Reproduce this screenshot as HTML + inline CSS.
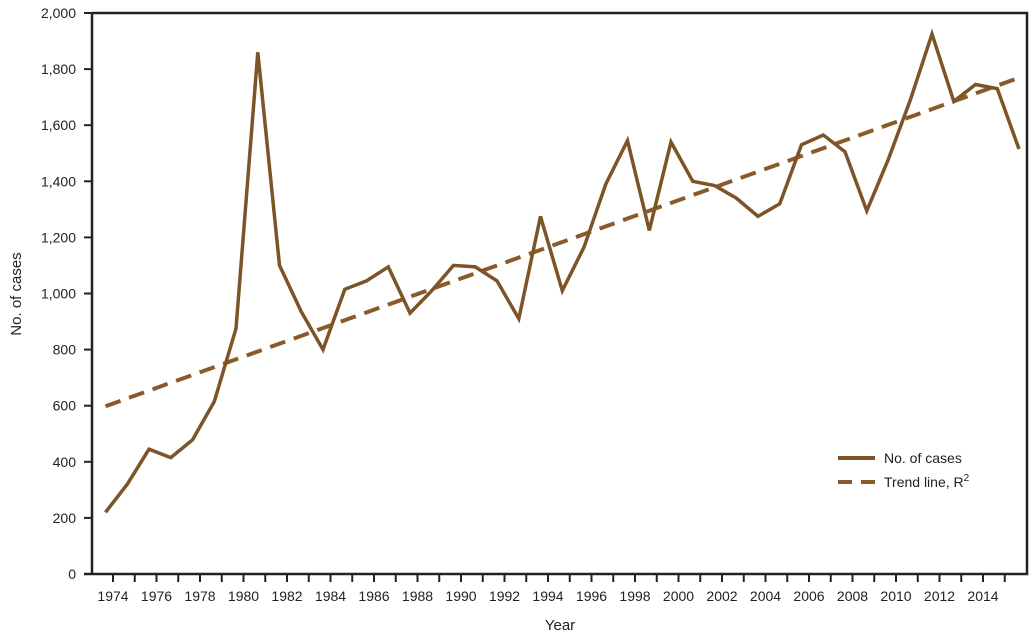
<!DOCTYPE html>
<html><head><meta charset="utf-8"><style>
html,body{margin:0;padding:0;background:#fff;}
svg{display:block;font-family:"Liberation Sans",sans-serif;}
</style></head><body>
<svg id="chart" width="1036" height="642" viewBox="0 0 1036 642" xmlns="http://www.w3.org/2000/svg"></svg>
<script>
const years = [];
for (let y = 1974; y <= 2016; y++) years.push(y);
const cases = [220,320,445,415,478,615,875,1860,1100,935,800,1015,1045,1095,930,1010,1100,1095,1045,910,1275,1010,1165,1390,1545,1225,1540,1400,1385,1340,1275,1320,1530,1565,1505,1295,1480,1690,1925,1685,1745,1730,1515];
const trendStart = 598;
const trendEnd = 1769;
const yTicks = [0,200,400,600,800,1000,1200,1400,1600,1800,2000];
const xTickYears = [];
for (let y = 1974; y <= 2015; y++) xTickYears.push(y);

const NS = "http://www.w3.org/2000/svg";
const svg = document.getElementById('chart');
const X0 = 92, X1 = 1027, Y0 = 574, Y1 = 13;
function yScale(v){ return Y0 - v * (Y0 - Y1) / 2000; }
function tickX(yr){ return 113 + (yr - 1974) * 21.75; }
function xScale(yr){ return tickX(yr) - 7.5; }
function mk(tag, attrs){ const e = document.createElementNS(NS, tag); for (const k in attrs) e.setAttribute(k, attrs[k]); svg.appendChild(e); return e; }

// frame
let f = mk('path', {d:`M${X0},${Y1} H${X1} V${Y0} H84 M${X0},${Y1} V${Y0}`, fill:'none', stroke:'#222', 'stroke-width':2.5});



yTicks.forEach(v => {
  const y = yScale(v);
  const t = mk('line', {x1:84, x2:X0, y1:y, y2:y, stroke:'#222', 'stroke-width':2});
  
  
  const l = mk('text', {x:76, y:y+5, 'text-anchor':'end', 'font-size':14, fill:'#222'});
  l.textContent = v.toLocaleString('en-US');
  
  
});
xTickYears.forEach(yr => {
  const x = tickX(yr);
  const t = mk('line', {x1:x, x2:x, y1:Y0, y2:582, stroke:'#222', 'stroke-width':2});
  
  
  if (yr % 2 === 0) {
    const l = mk('text', {x:x, y:601, 'text-anchor':'middle', 'font-size':14, fill:'#222'});
    l.textContent = yr;
    
    
  }
});

// trend line
const tl = mk('line', {x1:xScale(years[0]), y1:yScale(trendStart), x2:xScale(years[cases.length-1]), y2:yScale(trendEnd), stroke:'#8b5a2b', 'stroke-width':4, 'stroke-dasharray':'16,9'});



// cases line
const pts = cases.map((v,i) => xScale(years[i]).toFixed(1) + ',' + yScale(v).toFixed(1)).join(' ');
const cl = mk('polyline', {points:pts, fill:'none', stroke:'#7d5427', 'stroke-width':3.5, 'stroke-linejoin':'miter'});



// axis titles
const yt = mk('text', {x:0, y:0, transform:'translate(21,294) rotate(-90)', 'text-anchor':'middle', 'font-size':15, fill:'#222'});
yt.textContent = 'No. of cases';


const xt = mk('text', {x:560, y:630, 'text-anchor':'middle', 'font-size':15, fill:'#222'});
xt.textContent = 'Year';



// legend
const l1 = mk('line', {x1:838, x2:875, y1:458, y2:458, stroke:'#7d5427', 'stroke-width':4});


const t1 = mk('text', {x:884, y:463, 'font-size':14, fill:'#222'});
t1.textContent = 'No. of cases';


const l2 = mk('line', {x1:838, x2:875, y1:482, y2:482, stroke:'#8b5a2b', 'stroke-width':4, 'stroke-dasharray':'14,9'});


const t2 = mk('text', {x:884, y:487, 'font-size':14, fill:'#222'});
t2.innerHTML = 'Trend line, R<tspan dy="-6" font-size="10">2</tspan>';


</script>
</body></html>
